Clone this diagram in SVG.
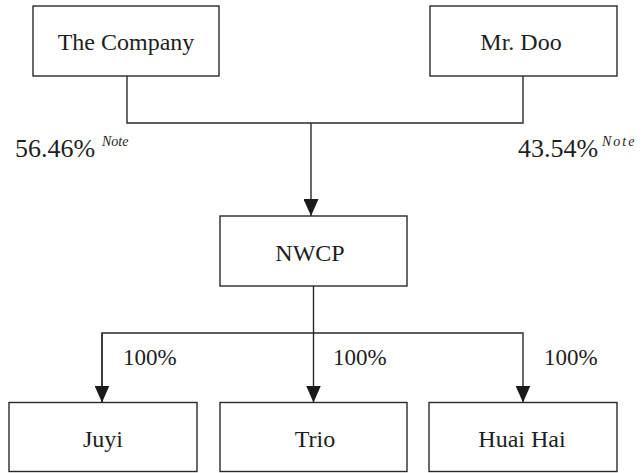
<svg xmlns="http://www.w3.org/2000/svg" width="643" height="473" viewBox="0 0 643 473">
  <style>
    text { font-family: 'Liberation Serif', 'DejaVu Serif', serif; fill: #1e1e1e; }
    .box { fill: #ffffff; stroke: #2a2a2a; stroke-width: 1.4; }
    .lbl { font-size: 24px; text-anchor: middle; }
    .pct { font-size: 26px; }
    .pct2 { font-size: 23px; }
    .note { font-size: 14px; font-style: italic; }
    .conn { fill: none; stroke: #2a2a2a; stroke-width: 1.4; }
  </style>
  <defs>
    <marker id="arrow" markerUnits="userSpaceOnUse" markerWidth="17" markerHeight="15" viewBox="0 -7.5 17 15" refX="17" refY="0" orient="auto">
      <path d="M0,-7.5 L17,0 L0,7.5 Z" fill="#1a1a1a"/>
    </marker>
  </defs>
  <rect width="643" height="473" fill="#ffffff"/>

  <g id="connectors">
    <path class="conn" d="M127,76 V123 H523 V76"/>
    <path class="conn" d="M311,123 V216" marker-end="url(#arrow)"/>
    <path class="conn" d="M313.5,286 V402.5" marker-end="url(#arrow)"/>
    <path class="conn" d="M102,402.5 V333 H523 V402.5" marker-end="url(#arrow)"/>
    <path class="conn" d="M102,333 V402.5" marker-end="url(#arrow)"/>
  </g>

  <g id="labels">
    <text class="pct" x="15" y="157">56.46%</text>
    <text class="note" x="102" y="146">Note</text>
    <text class="pct" x="518" y="157">43.54%</text>
    <text class="note" x="602" y="146" letter-spacing="2">Note</text>
    <text class="pct2" x="123" y="365">100%</text>
    <text class="pct2" x="333" y="365">100%</text>
    <text class="pct2" x="544" y="365">100%</text>
  </g>

  <g id="node-company">
    <rect class="box" x="33" y="6" width="186" height="70"/>
    <text class="lbl" x="126" y="50">The Company</text>
  </g>
  <g id="node-mrdoo">
    <rect class="box" x="430" y="6" width="187" height="70"/>
    <text class="lbl" x="521" y="50">Mr. Doo</text>
  </g>
  <g id="node-nwcp">
    <rect class="box" x="220" y="216" width="187" height="70"/>
    <text class="lbl" x="310" y="261">NWCP</text>
  </g>
  <g id="node-juyi">
    <rect class="box" x="9" y="402.5" width="188" height="69"/>
    <text class="lbl" x="103" y="447">Juyi</text>
  </g>
  <g id="node-trio">
    <rect class="box" x="220" y="402.5" width="187" height="69"/>
    <text class="lbl" x="315" y="447">Trio</text>
  </g>
  <g id="node-huaihai">
    <rect class="box" x="429" y="402.5" width="188" height="69"/>
    <text class="lbl" x="522" y="447">Huai Hai</text>
  </g>
</svg>
